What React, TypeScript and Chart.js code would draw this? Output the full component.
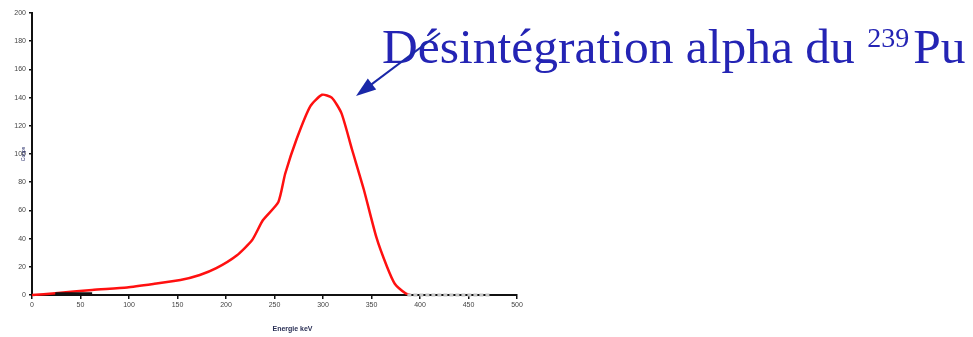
import React, { useEffect, useRef } from "react";
import { Chart, registerables } from "chart.js";

Chart.register(...registerables);

// Alpha spectrum (energy in keV on x, counts on y)
const spectrumEnergy = [0, 24, 62, 98, 125, 153, 173, 190, 211, 227, 238, 254, 261, 273, 287, 299, 309, 319, 330, 342, 355, 366, 374, 385, 390];
const spectrumCounts = [0, 1.2, 3.6, 5.4, 7.8, 10.6, 14.2, 19, 28, 39, 53, 66, 86, 111, 134, 142, 140, 129, 103, 75, 41, 20, 8, 1.2, 0];

// Short dark segment near the origin
const lowEnergy = [24, 62];
const lowCounts = [0.8, 0.8];

// Empty channels after the peak
const tailEnergy = [387, 472];
const tailCounts = [0, 0];

const xTickStep = 50;
const xMax = 500;
const yTickStep = 20;
const yMax = 200;

const xTitle = "Energie keV";
const yTitle = "Coups";
const labelMain = "Désintégration alpha du ";
const labelIsotope = "239";
const labelElement = "Pu";

const toPoints = (xs: number[], ys: number[]) => xs.map((x, i) => ({ x, y: ys[i] }));

const annotationPlugin = {
  id: "puAnnotation",
  afterDraw(chart: any) {
    const ctx = chart.ctx as CanvasRenderingContext2D;
    const xs = chart.scales.x;

    // axis titles
    ctx.save();
    ctx.fillStyle = "#2a2f55";
    ctx.font = "bold 7px 'Liberation Sans', Arial, sans-serif";
    ctx.textAlign = "center";
    ctx.textBaseline = "middle";
    ctx.fillText(xTitle, (xs.left + xs.right) / 2 + 18, 329);
    ctx.font = "5px 'Liberation Sans', Arial, sans-serif";
    ctx.fillStyle = "#1a2060";
    ctx.translate(24, 154);
    ctx.rotate(-Math.PI / 2);
    ctx.fillText(yTitle, 0, 0);
    ctx.restore();

    // annotation label
    ctx.save();
    ctx.fillStyle = "#2424b4";
    ctx.textBaseline = "alphabetic";
    ctx.textAlign = "left";
    let x = 382;
    const base = 63;
    ctx.font = "49.5px 'Liberation Serif', 'Times New Roman', serif";
    ctx.fillText(labelMain, x, base);
    x += ctx.measureText(labelMain).width;
    ctx.font = "28px 'Liberation Serif', 'Times New Roman', serif";
    ctx.fillText(labelIsotope, x, base - 16);
    x += ctx.measureText(labelIsotope).width + 4;
    ctx.font = "49.5px 'Liberation Serif', 'Times New Roman', serif";
    ctx.fillText(labelElement, x, base);

    // arrow pointing at the peak
    const x0 = 440, y0 = 33, x1 = 356, y1 = 96;
    const ang = Math.atan2(y1 - y0, x1 - x0);
    const headLen = 20, headW = 7;
    ctx.strokeStyle = "#1a28a8";
    ctx.fillStyle = "#1a28a8";
    ctx.lineWidth = 2;
    ctx.beginPath();
    ctx.moveTo(x0, y0);
    ctx.lineTo(x1 - Math.cos(ang) * headLen * 0.8, y1 - Math.sin(ang) * headLen * 0.8);
    ctx.stroke();
    ctx.beginPath();
    ctx.moveTo(x1, y1);
    const bx = x1 - Math.cos(ang) * headLen;
    const by = y1 - Math.sin(ang) * headLen;
    ctx.lineTo(bx + Math.sin(ang) * headW, by - Math.cos(ang) * headW);
    ctx.lineTo(bx - Math.sin(ang) * headW, by + Math.cos(ang) * headW);
    ctx.closePath();
    ctx.fill();
    ctx.restore();
  },
};

export default function App() {
  const canvasRef = useRef<HTMLCanvasElement | null>(null);

  useEffect(() => {
    const canvas = canvasRef.current;
    if (!canvas) return;
    const tickFont = { family: "'Liberation Sans', Arial, sans-serif", size: 7 };
    const chart = new Chart(canvas, {
      type: "line",
      data: {
        datasets: [
          {
            data: toPoints(tailEnergy, tailCounts),
            borderColor: "#c4c4c4",
            borderWidth: 3,
            borderDash: [4, 2],
            pointRadius: 0,
            clip: false as any,
          },
          {
            data: toPoints(lowEnergy, lowCounts),
            borderColor: "#111111",
            borderWidth: 3,
            pointRadius: 0,
            clip: false as any,
          },
          {
            data: toPoints(spectrumEnergy, spectrumCounts),
            borderColor: "#ff1010",
            borderWidth: 2.5,
            pointRadius: 0,
            tension: 0.2,
            clip: false as any,
          },
        ],
      },
      options: {
        animation: false,
        responsive: false,
        devicePixelRatio: 1,
        events: [],
        layout: { padding: { left: 0, right: 456, top: 13, bottom: 0 } },
        plugins: { legend: { display: false }, tooltip: { enabled: false }, title: { display: false } },
        scales: {
          x: {
            type: "linear",
            min: 0,
            max: xMax,
            ticks: { stepSize: xTickStep, font: tickFont, color: "#444", padding: 2, maxRotation: 0 },
            grid: { drawOnChartArea: false, drawTicks: true, tickLength: 4, color: "#111", lineWidth: 1.5 },
            border: { color: "#111", width: 2 },
            afterFit: (scale: any) => {
              scale.height = 42;
            },
          },
          y: {
            type: "linear",
            min: 0,
            max: yMax,
            ticks: { stepSize: yTickStep, font: tickFont, color: "#444", padding: 3 },
            grid: { drawOnChartArea: false, drawTicks: true, tickLength: 3, color: "#111", lineWidth: 1.5 },
            border: { color: "#111", width: 2 },
            afterFit: (scale: any) => {
              scale.width = 32;
            },
          },
        },
      },
      plugins: [annotationPlugin],
    } as any);
    return () => chart.destroy();
  }, []);

  return (
    <div style={{ position: "fixed", left: 0, top: 0, width: 973, height: 337, background: "#ffffff" }}>
      <canvas ref={canvasRef} width={973} height={337} style={{ display: "block" }} />
    </div>
  );
}
